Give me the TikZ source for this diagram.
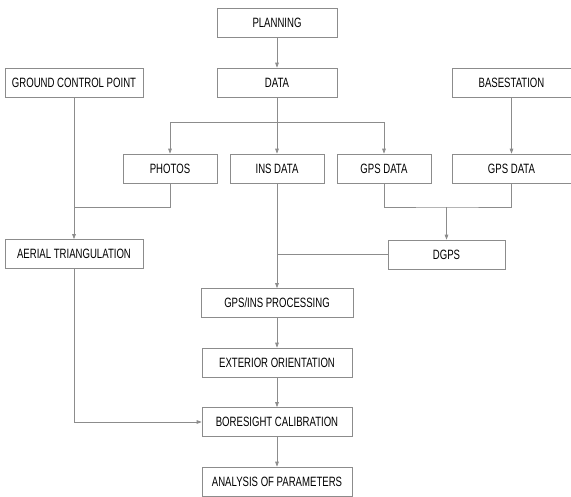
\documentclass[tikz,border=0pt]{standalone}
\usepackage{fontspec}
\setmainfont{Liberation Sans}[FakeStretch=0.71]
\usetikzlibrary{arrows.meta}

\tikzset{
  box/.style={draw=black!45, line width=0.7pt, fill=white, minimum height=29pt,
    inner sep=0pt, text=black, font=\fontsize{13.5}{15}\selectfont},
  arr/.style={draw=black!45, line width=0.7pt, -{Triangle[length=5pt,width=3.6pt]}},
  ln/.style={draw=black!45, line width=0.7pt}
}

\begin{document}
\begin{tikzpicture}[x=1pt,y=-1pt]
\useasboundingbox (0,0) rectangle (571,496);
\node[box, minimum width=120pt] (plan) at (277,22.5) {PLANNING};
\node[box, minimum width=120pt] (data) at (277,82.5) {DATA};
\node[box, minimum width=138pt] (gcp) at (74,82.5) {GROUND CONTROL POINT};
\node[box, minimum width=119pt] (base) at (511.5,82.5) {BASESTATION};
\node[box, minimum width=94pt] (photos) at (170,168.5) {PHOTOS};
\node[box, minimum width=94pt] (ins) at (277,168.5) {INS DATA};
\node[box, minimum width=94pt] (gpsa) at (384,168.5) {GPS DATA};
\node[box, minimum width=119pt] (gpsb) at (511.5,168.5) {GPS DATA};
\node[box, minimum width=138pt] (aero) at (74,254) {AERIAL TRIANGULATION};
\node[box, minimum width=117pt] (dgps) at (446.5,254.5) {DGPS};
\node[box, minimum width=152pt] (proc) at (277,303) {GPS/INS PROCESSING};
\node[box, minimum width=150pt] (ext) at (277,362.5) {EXTERIOR ORIENTATION};
\node[box, minimum width=150pt] (bore) at (277,422) {BORESIGHT CALIBRATION};
\node[box, minimum width=150pt] (anal) at (277,481.5) {ANALYSIS OF PARAMETERS};

\coordinate (split) at (277,122);
\coordinate (joinl) at (74,207);
\coordinate (joinr) at (446.5,207);

\draw[arr] (plan) -- (data);
\draw[arr] (data) -- (ins);
\draw[arr] (split) -| (photos);
\draw[arr] (split) -| (gpsa);
\draw[arr] (base) -- (gpsb);
\draw[arr] (gcp) -- (aero);
\draw[ln] (photos.south) |- (joinl);
\draw[ln] (gpsa.south) |- (joinr) -| (gpsb.south);
\draw[arr] (joinr) -- (dgps);
\draw[ln] (dgps.west) -- (dgps.west -| ins);
\draw[arr] (ins) -- (proc);
\draw[arr] (proc) -- (ext);
\draw[arr] (ext) -- (bore);
\draw[arr] (bore) -- (anal);
\draw[arr] (aero.south) |- (bore.west);
\end{tikzpicture}
\end{document}
